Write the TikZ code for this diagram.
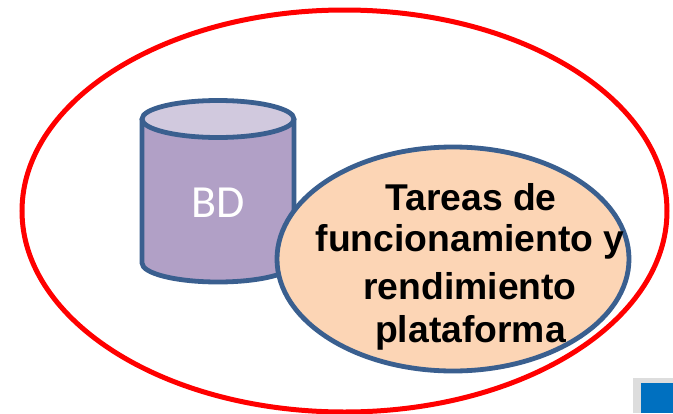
\documentclass[tikz,border=0pt]{standalone}
\usepackage{fontspec}
\setmainfont{Liberation Sans}
\newfontfamily\calib{Carlito}
\definecolor{rimblue}{HTML}{3A5F8F}
\definecolor{cylbody}{HTML}{B1A0C6}
\definecolor{cyltop}{HTML}{D1C9DE}
\definecolor{peach}{HTML}{FCD5B5}
\definecolor{cornerblue}{HTML}{0070C0}
\definecolor{cornergray}{HTML}{DDDDDD}
\begin{document}
\begin{tikzpicture}[x=1pt,y=-1pt,
  rim/.style={draw=rimblue,line width=4.8pt},
  outer/.style={draw=red,line width=5pt,fill=white},
  label/.style={font=\fontsize{37.3}{37.3}\selectfont\bfseries,text=black,inner sep=0pt,anchor=center}]
\useasboundingbox (0,0) rectangle (673,413);
\fill[white] (0,0) rectangle (673,413);
\draw[outer] (344.5,211) ellipse [x radius=322.5,y radius=201];
\fill[cornergray] (633,378) rectangle (673,413);
\fill[cornerblue] (641,383) rectangle (673,413);
\fill[cylbody] (142,119) -- (142,263) arc[start angle=180,end angle=0,x radius=76,y radius=19] -- (294,119) arc[start angle=0,end angle=-180,x radius=76,y radius=19] -- cycle;
\draw[rim] (142,119) -- (142,263) arc[start angle=180,end angle=0,x radius=76,y radius=19] -- (294,119);
\draw[rim,fill=cyltop] (218,119) ellipse [x radius=76,y radius=18.5];
\node[font=\calib\fontsize{46}{46}\selectfont,text=white] (bd) at (218.5,203) {BD};
\draw[rim,fill=peach] (453,259) ellipse [x radius=176,y radius=112];
\node[label] (t1) at (471,197) {Tareas de};
\node[label] (t2) at (470,242) {funcionamiento y};
\node[label] (t3) at (470,286) {rendimiento};
\node[label] (t4) at (470.5,332.5) {plataforma};
\end{tikzpicture}
\end{document}
